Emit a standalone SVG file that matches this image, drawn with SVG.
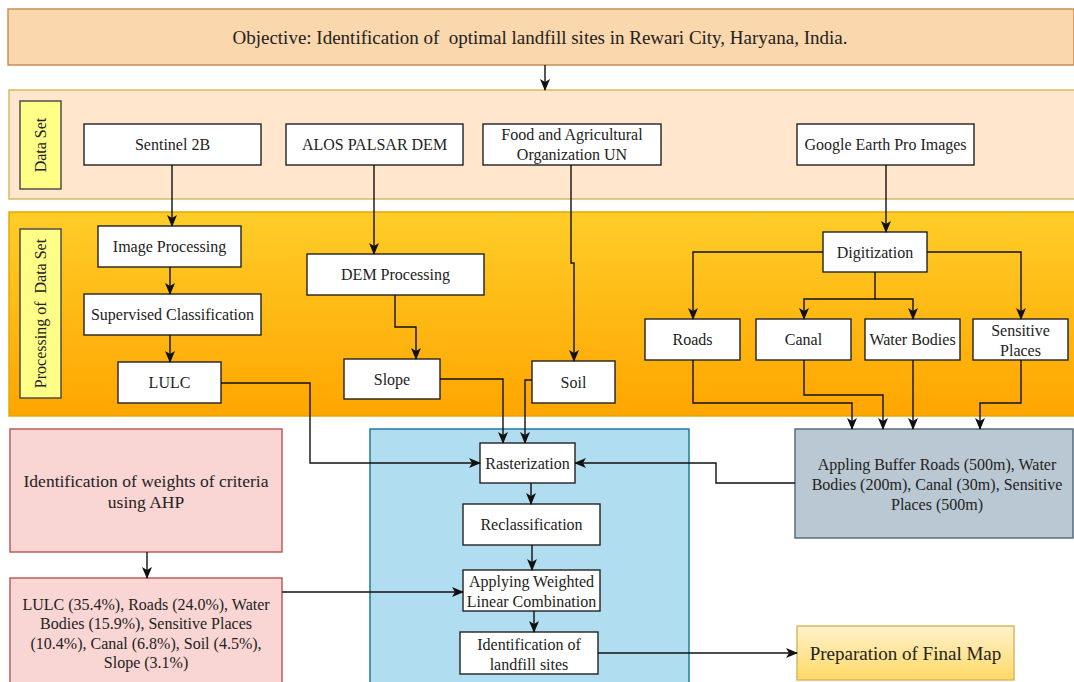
<svg xmlns="http://www.w3.org/2000/svg" width="1074" height="682" viewBox="0 0 1074 682">
<defs>
<linearGradient id="gProc" x1="0" y1="0" x2="0" y2="1"><stop offset="0" stop-color="#ffcd28"/><stop offset="1" stop-color="#ffa500"/></linearGradient>
<linearGradient id="gPrep" x1="0" y1="0" x2="0" y2="1"><stop offset="0" stop-color="#fff2cc"/><stop offset="1" stop-color="#ffd966"/></linearGradient>
<marker id="arr" markerUnits="userSpaceOnUse" markerWidth="12" markerHeight="12" viewBox="0 0 12 12" refX="11" refY="6" orient="auto"><path d="M0,1 L12,6 L0,11 L3,6 z" fill="#111"/></marker>
<style>
text{font-family:"Liberation Serif","Times New Roman",serif;fill:#222;text-anchor:middle;white-space:pre}
.t{font-size:16px}
.box{fill:#fff;stroke:#222;stroke-width:1.4}
.lab{fill:#ffff88;stroke:#444;stroke-width:1.4}
.c path{fill:none;stroke:#111;stroke-width:1.4}
.a{marker-end:url(#arr)}
</style>
</defs>
<g id="banner"><rect x="8" y="9" width="1066" height="56" fill="#fad7ac" stroke="#c8884a" stroke-width="1.4"/><text x="540" y="43.5" style="font-size:19px">Objective: Identification of  optimal landfill sites in Rewari City, Haryana, India.</text></g>
<g id="dataset-band"><rect x="9" y="90" width="1066" height="109" fill="#ffe6cc" stroke="#d6b656" stroke-width="1.4"/></g>
<g id="processing-band"><rect x="9" y="212" width="1066" height="204" fill="url(#gProc)" stroke="#e0a400" stroke-width="1.4"/></g>
<g id="dataset-label"><rect class="lab" x="20" y="101" width="41" height="88"/><text class="t" transform="translate(46,145) rotate(-90)">Data Set</text></g>
<g id="processing-label"><rect class="lab" x="20" y="229" width="41" height="169"/><text class="t" transform="translate(46,313.5) rotate(-90)">Processing of  Data Set</text></g>
<g id="sentinel"><rect class="box" x="84" y="124" width="177" height="41"/><text class="t" x="172.5" y="150">Sentinel 2B</text></g>
<g id="alos"><rect class="box" x="286" y="124" width="177" height="41"/><text class="t" x="374.5" y="150">ALOS PALSAR DEM</text></g>
<g id="fao"><rect class="box" x="483" y="124" width="178" height="41"/><text class="t" x="572" y="140">Food and Agricultural</text><text class="t" x="572" y="160">Organization UN</text></g>
<g id="google"><rect class="box" x="797" y="124" width="177" height="41"/><text class="t" x="885.5" y="150">Google Earth Pro Images</text></g>
<g id="image-processing"><rect class="box" x="98" y="226" width="143" height="41"/><text class="t" x="169.5" y="252">Image Processing</text></g>
<g id="supervised"><rect class="box" x="84" y="294" width="177" height="41"/><text class="t" x="172.5" y="320">Supervised Classification</text></g>
<g id="lulc"><rect class="box" x="118" y="362" width="103" height="41"/><text class="t" x="169.5" y="388">LULC</text></g>
<g id="dem-processing"><rect class="box" x="307" y="254" width="177" height="41"/><text class="t" x="395.5" y="280">DEM Processing</text></g>
<g id="slope"><rect class="box" x="344" y="359" width="96" height="40"/><text class="t" x="392" y="385">Slope</text></g>
<g id="soil"><rect class="box" x="532" y="361" width="83" height="42"/><text class="t" x="573.5" y="388">Soil</text></g>
<g id="digitization"><rect class="box" x="823" y="232" width="104" height="40"/><text class="t" x="875" y="258">Digitization</text></g>
<g id="roads"><rect class="box" x="645" y="319" width="95" height="41"/><text class="t" x="692.5" y="345">Roads</text></g>
<g id="canal"><rect class="box" x="756" y="319" width="95" height="41"/><text class="t" x="803.5" y="345">Canal</text></g>
<g id="water-bodies"><rect class="box" x="865" y="319" width="95" height="41"/><text class="t" x="912.5" y="345">Water Bodies</text></g>
<g id="sensitive-places"><rect class="box" x="973" y="319" width="95" height="41"/><text class="t" x="1020.5" y="336">Sensitive</text><text class="t" x="1020.5" y="356">Places</text></g>
<g id="ahp"><rect x="10" y="429" width="272" height="123" fill="#f9d6d3" stroke="#b85450" stroke-width="1.4"/><text x="146" y="487" style="font-size:17.5px">Identification of weights of criteria</text><text x="146" y="508" style="font-size:17.5px">using AHP</text></g>
<g id="weights"><rect x="10" y="578" width="272" height="112" fill="#f9d6d3" stroke="#b85450" stroke-width="1.4"/><text class="t" x="146" y="609.5">LULC (35.4%), Roads (24.0%), Water</text><text class="t" x="146" y="629">Bodies (15.9%), Sensitive Places</text><text class="t" x="146" y="648.5">(10.4%), Canal (6.8%), Soil (4.5%),</text><text class="t" x="146" y="668">Slope (3.1%)</text></g>
<g id="gis-container"><rect x="370" y="429" width="319" height="262" fill="#b1ddf0" stroke="#10739e" stroke-width="1.4"/></g>
<g id="rasterization"><rect class="box" x="480" y="443" width="95" height="40"/><text class="t" x="527.5" y="469">Rasterization</text></g>
<g id="reclassification"><rect class="box" x="463" y="504" width="137" height="41"/><text class="t" x="531.5" y="530">Reclassification</text></g>
<g id="wlc"><rect class="box" x="463" y="570" width="137" height="41"/><text class="t" x="531.5" y="586.5">Applying Weighted</text><text class="t" x="531.5" y="606.5">Linear Combination</text></g>
<g id="landfill-sites"><rect class="box" x="460" y="632" width="138" height="42"/><text class="t" x="529" y="649.5">Identification of</text><text class="t" x="529" y="669.5">landfill sites</text></g>
<g id="buffer"><rect x="795" y="429" width="278" height="109" fill="#bac8d3" stroke="#4f6477" stroke-width="1.4"/><text class="t" x="937" y="469.5">Appling Buffer Roads (500m), Water</text><text class="t" x="937" y="489.5">Bodies (200m), Canal (30m), Sensitive</text><text class="t" x="937" y="509.5">Places (500m)</text></g>
<g id="final-map"><rect x="797" y="626" width="217" height="54" fill="url(#gPrep)" stroke="#d6b656" stroke-width="1.4"/><text x="905.5" y="659.5" style="font-size:19px">Preparation of Final Map</text></g>
<g id="connectors" class="c">
<path class="a" d="M545,65 V90"/>
<path class="a" d="M172,165 V226"/>
<path class="a" d="M374,165 V254"/>
<path class="a" d="M571,165 V263 H574 V361"/>
<path class="a" d="M886,165 V232"/>
<path class="a" d="M170,267 V294"/>
<path class="a" d="M170,335 V362"/>
<path class="a" d="M395,295 V327 H416 V359"/>
<path class="a" d="M823,252 H693 V319"/>
<path class="a" d="M927,252 H1021 V319"/>
<path class="a" d="M875,272 V299 H804 V319"/>
<path class="a" d="M875,299 H913 V319"/>
<path class="a" d="M221,383 H310 V463 H480"/>
<path class="a" d="M440,379 H503 V443"/>
<path class="a" d="M532,380 H525 V443"/>
<path class="a" d="M693,360 V403 H852 V429"/>
<path class="a" d="M804,360 V395 H883 V429"/>
<path class="a" d="M913,360 V429"/>
<path class="a" d="M1021,360 V403 H980 V429"/>
<path class="a" d="M795,483 H716 V463 H575"/>
<path class="a" d="M531,483 V504"/>
<path class="a" d="M532,545 V570"/>
<path class="a" d="M534,611 V632"/>
<path class="a" d="M147,552 V578"/>
<path class="a" d="M282,592 H463"/>
<path class="a" d="M598,653 H797"/>
</g>
</svg>
